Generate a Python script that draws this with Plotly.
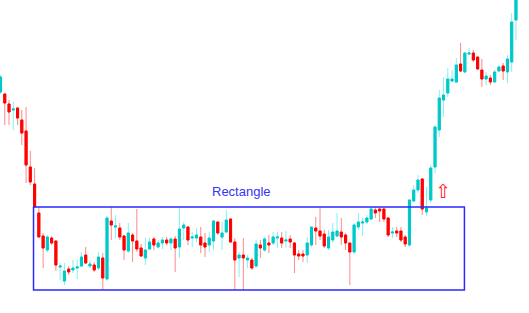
import plotly.graph_objects as go

# OHLC price levels (candle index 0..121)
opens = [221, 219, 209, 203, 205, 193, 182, 146, 129, 100,
         77, 63, 75, 72, 46, 32, 44, 43, 45, 47,
         58, 47, 48, 45, 55, 34, 92, 86, 85, 77,
         62, 78, 72, 65, 55, 64, 74, 66, 70, 73,
         70, 74, 66, 85, 86, 75, 75, 76, 70, 68,
         72, 91, 76, 81, 94, 71, 55, 58, 53, 53,
         47, 68, 63, 70, 70, 75, 75, 72, 74, 70,
         59, 59, 58, 68, 85, 82, 79, 65, 73, 77,
         81, 78, 70, 61, 86, 90, 91, 94, 103, 104,
         104, 95, 80, 82, 82, 76, 68, 112, 123, 134,
         101, 113, 146, 183, 213, 220, 232, 231, 249, 241,
         259, 260, 256, 243, 234, 235, 231, 242, 247, 241,
         251, 293]
highs = [238, 220, 213, 211, 206, 203, 206, 162, 145, 106,
         80, 78, 77, 73, 50, 50, 47, 53, 53, 61,
         66, 53, 51, 61, 60, 97, 106, 98, 90, 78,
         90, 80, 104, 69, 75, 75, 76, 73, 76, 76,
         76, 77, 105, 91, 87, 81, 85, 86, 80, 81,
         93, 91, 91, 103, 94, 75, 61, 75, 58, 55,
         73, 73, 76, 78, 81, 81, 81, 82, 78, 71,
         63, 63, 76, 86, 96, 106, 83, 83, 90, 100,
         95, 80, 70, 90, 100, 95, 98, 106, 106, 106,
         106, 96, 86, 86, 86, 78, 114, 128, 138, 135,
         126, 148, 188, 223, 236, 245, 243, 255, 270, 261,
         265, 263, 256, 254, 241, 238, 243, 248, 250, 258,
         300, 323]
lows = [219, 188, 188, 183, 188, 168, 130, 128, 106, 76,
        45, 61, 68, 42, 33, 28, 38, 40, 34, 46,
        49, 45, 41, 43, 23, 33, 73, 75, 73, 53,
        60, 51, 61, 56, 48, 63, 63, 65, 64, 68,
        63, 41, 55, 73, 68, 66, 71, 60, 56, 61,
        63, 78, 63, 80, 70, 23, 36, 23, 45, 43,
        45, 55, 61, 60, 68, 65, 65, 65, 65, 40,
        53, 51, 50, 66, 68, 73, 65, 63, 70, 76,
        68, 63, 28, 59, 83, 77, 89, 93, 95, 91,
        91, 76, 75, 76, 71, 66, 66, 111, 120, 98,
        97, 110, 140, 176, 196, 216, 231, 230, 241, 240,
        258, 251, 243, 226, 228, 228, 230, 241, 233, 230,
        241, 273]
closes = [236, 210, 201, 204, 195, 180, 148, 131, 106, 76,
          65, 76, 70, 48, 47, 42, 41, 45, 46, 56,
          50, 49, 43, 56, 35, 95, 88, 87, 76, 63,
          80, 72, 64, 57, 63, 71, 68, 70, 73, 70,
          74, 65, 84, 88, 73, 76, 78, 68, 66, 75,
          92, 80, 80, 93, 71, 53, 58, 55, 55, 45,
          69, 65, 74, 68, 76, 76, 70, 73, 71, 58,
          57, 57, 70, 86, 82, 77, 67, 76, 81, 82,
          76, 70, 61, 88, 91, 91, 95, 104, 100, 102,
          94, 78, 81, 80, 73, 69, 113, 123, 133, 104,
          105, 145, 186, 215, 218, 234, 234, 248, 242, 260,
          260, 253, 244, 234, 237, 231, 241, 246, 242, 254,
          291, 318]

idx = list(range(len(opens)))

# Consolidation range candles used for the rectangle
range_first, range_last = 10, 95
rect_x0, rect_x1 = 7.75, 108.9

UP_BODY, UP_WICK = "#00c8c8", "#80f2f2"
DN_BODY, DN_WICK = "#ff0000", "#ff8888"

body_hi = [max(o, c) for o, c in zip(opens, closes)]
body_lo = [min(o, c) for o, c in zip(opens, closes)]

fig = go.Figure()
# wicks (light)
fig.add_trace(go.Candlestick(
    x=idx, open=opens, high=highs, low=lows, close=closes,
    increasing=dict(line=dict(color=UP_WICK, width=1), fillcolor=UP_WICK),
    decreasing=dict(line=dict(color=DN_WICK, width=1), fillcolor=DN_WICK),
    whiskerwidth=0, showlegend=False, hoverinfo="skip"))
# bodies (saturated)
fig.add_trace(go.Candlestick(
    x=idx, open=opens, high=body_hi, low=body_lo, close=closes,
    increasing=dict(line=dict(color=UP_BODY, width=1), fillcolor=UP_BODY),
    decreasing=dict(line=dict(color=DN_BODY, width=1), fillcolor=DN_BODY),
    whiskerwidth=0, showlegend=False))

top = max(highs[range_first:range_last + 1])
bottom = min(lows[range_first:range_last + 1])

fig.add_shape(type="rect", x0=rect_x0, x1=rect_x1, y0=bottom, y1=top,
              line=dict(color="#2a2aff", width=1.5), fillcolor="rgba(0,0,0,0)")

fig.add_annotation(x=56.6, y=top + 16, text="Rectangle", showarrow=False,
                   font=dict(family="Liberation Sans, Arial", size=13, color="#3535f5"),
                   xanchor="center", yanchor="middle")
fig.add_annotation(x=103.9, y=top + 16, text="⇧", showarrow=False,
                   font=dict(family="DejaVu Sans", size=19, color="#ff2020"),
                   xanchor="center", yanchor="middle")

fig.update_layout(
    width=529, height=313,
    margin=dict(l=0, r=0, t=0, b=0),
    paper_bgcolor="white", plot_bgcolor="white",
    showlegend=False,
    xaxis=dict(range=[-0.12, 124.06], visible=False, rangeslider=dict(visible=False),
               showgrid=False, zeroline=False),
    yaxis=dict(range=[0, 313], visible=False, showgrid=False, zeroline=False),
)

fig.write_html("out.html")
